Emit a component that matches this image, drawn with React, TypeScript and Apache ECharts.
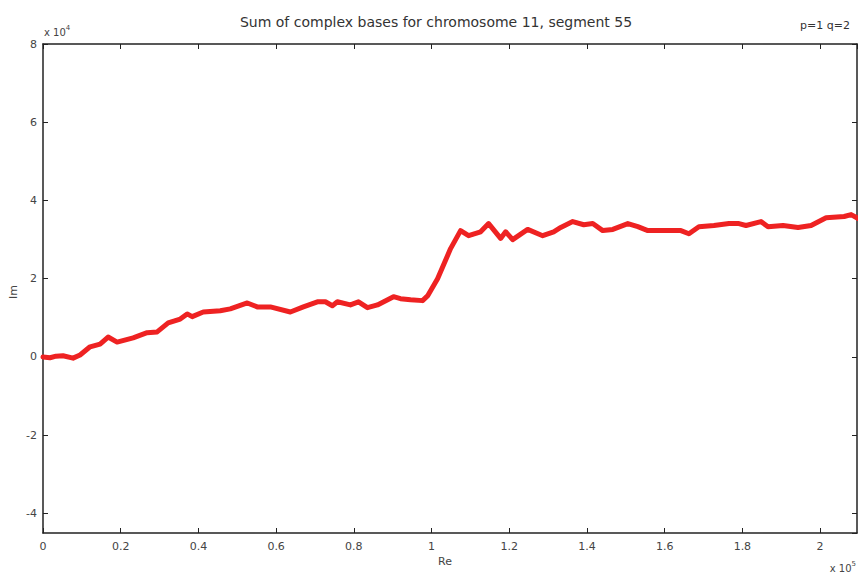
import React, { useEffect, useRef } from "react";
import * as echarts from "echarts";

// base position along segment
const positions = [
  0, 1800, 3350, 5150, 7730, 9540, 12110, 14690, 16750, 19070, 23200, 26800,
  29380, 32220, 35310, 37110, 38400, 41240, 45620, 48200, 52580, 55150, 58510,
  63660, 67010, 70620, 72680, 74480, 75770, 79120, 81190, 83510, 86080, 90210,
  92010, 94590, 97680, 98970, 101550, 104900, 107470, 109540, 112630, 114690,
  117780, 119070, 120880, 124740, 128610, 131440, 133250, 136340, 139180,
  141490, 144070, 146650, 150520, 153090, 155670, 159790, 164180, 166240,
  168810, 172680, 176550, 179120, 180930, 184790, 186600, 190460, 194330,
  197680, 201550, 206190, 207990, 209790,
];
// cumulative imaginary sum
const imagSums = [
  0, -200, 200, 300, -300, 500, 2600, 3300, 5100, 3800, 4900, 6200, 6400,
  8700, 9700, 11000, 10300, 11500, 11800, 12300, 13800, 12800, 12800, 11500,
  12800, 14100, 14100, 13100, 14100, 13300, 14100, 12600, 13300, 15400, 14900,
  14600, 14400, 15600, 20000, 27700, 32300, 31000, 32000, 34100, 30300, 32000,
  30000, 32600, 31000, 32000, 33100, 34600, 33800, 34100, 32300, 32600, 34100,
  33300, 32300, 32300, 32300, 31500, 33300, 33600, 34100, 34100, 33600, 34600,
  33300, 33600, 33100, 33600, 35600, 35900, 36400, 35400,
];
const xTickValues = [0, 0.2, 0.4, 0.6, 0.8, 1, 1.2, 1.4, 1.6, 1.8, 2];
const yTickValues = [-4, -2, 0, 2, 4, 6, 8];

const titleText = "Sum of complex bases for chromosome 11, segment 55";
const paramText = "p=1 q=2";
const xName = "Re";
const yName = "Im";

const FONT = "'DejaVu Sans', Verdana, sans-serif";
const AXIS_COLOR = "#222";
const LABEL_COLOR = "#444";

export default function App() {
  const ref = useRef<HTMLDivElement>(null);

  useEffect(() => {
    document.body.style.margin = "0";
    if (!ref.current) return;
    const chart = echarts.init(ref.current, undefined, { renderer: "svg" });
    const data = positions.map((p, i) => [p, imagSums[i]]);
    const xFmt = (v: number) => {
      const s = v / 1e5;
      const hit = xTickValues.find((t) => Math.abs(t - s) < 1e-6);
      return hit === undefined ? "" : String(hit);
    };
    const yFmt = (v: number) => {
      const s = v / 1e4;
      const hit = yTickValues.find((t) => Math.abs(t - s) < 1e-6);
      return hit === undefined ? "" : String(hit);
    };
    const common = {
      type: "value" as const,
      splitLine: { show: false },
      axisLine: { show: true, onZero: false, lineStyle: { color: AXIS_COLOR, width: 1.5 } },
      axisTick: { show: true, inside: true, length: 5, lineStyle: { color: AXIS_COLOR, width: 1 } },
    };
    const supRich = {
      a: { fontFamily: FONT, fontSize: 10, fill: LABEL_COLOR, verticalAlign: "bottom" },
      s: { fontFamily: FONT, fontSize: 7, fill: LABEL_COLOR, verticalAlign: "top", padding: [0, 0, 6, 0] },
    };
    chart.setOption({
      animation: false,
      backgroundColor: "#fff",
      grid: { left: 43, top: 44, right: 1, bottom: 44, containLabel: false },
      title: {
        text: titleText,
        left: 431,
        textAlign: "center",
        top: 10,
        textStyle: { fontFamily: FONT, fontSize: 14, fontWeight: "normal", color: "#333" },
      },
      xAxis: [
        {
          ...common,
          position: "bottom",
          min: 0,
          max: 209500,
          interval: 20000,
          axisLabel: {
            formatter: xFmt,
            margin: 8,
            fontFamily: FONT,
            fontSize: 11,
            color: LABEL_COLOR,
            showMaxLabel: false,
          },
        },
        {
          ...common,
          position: "top",
          min: 0,
          max: 209500,
          interval: 20000,
          axisLabel: { show: false },
        },
      ],
      yAxis: [
        {
          ...common,
          position: "left",
          min: -45000,
          max: 80000,
          splitNumber: 6,
          axisLabel: {
            formatter: yFmt,
            margin: 6,
            fontFamily: FONT,
            fontSize: 11,
            color: LABEL_COLOR,
            showMinLabel: false,
          },
        },
        {
          ...common,
          position: "right",
          min: -45000,
          max: 80000,
          splitNumber: 6,
          axisLabel: { show: false },
        },
      ],
      graphic: [
        {
          type: "text",
          left: 44,
          top: 24,
          style: { text: "{a|x 10}{s|4}", rich: supRich },
        },
        {
          type: "text",
          right: 8,
          top: 20,
          style: { text: paramText, fontFamily: FONT, fontSize: 11, fill: "#333" },
        },
        {
          type: "text",
          right: 2,
          top: 560,
          style: { text: "{a|x 10}{s|5}", rich: supRich },
        },
        {
          type: "text",
          left: 438,
          top: 556,
          style: { text: xName, fontFamily: FONT, fontSize: 11, fill: LABEL_COLOR },
        },
        {
          type: "text",
          x: 13,
          y: 292,
          rotation: Math.PI / 2,
          style: {
            text: yName,
            fontFamily: FONT,
            fontSize: 11,
            fill: LABEL_COLOR,
            align: "center",
            verticalAlign: "middle",
          },
        },
      ],
      series: [
        {
          type: "line",
          xAxisIndex: 0,
          yAxisIndex: 0,
          data,
          showSymbol: false,
          symbol: "none",
          lineStyle: { color: "#ee2222", width: 5, join: "round", cap: "round" },
          clip: true,
        },
      ],
    });
    return () => chart.dispose();
  }, []);

  return <div ref={ref} style={{ width: 858, height: 577 }} />;
}
